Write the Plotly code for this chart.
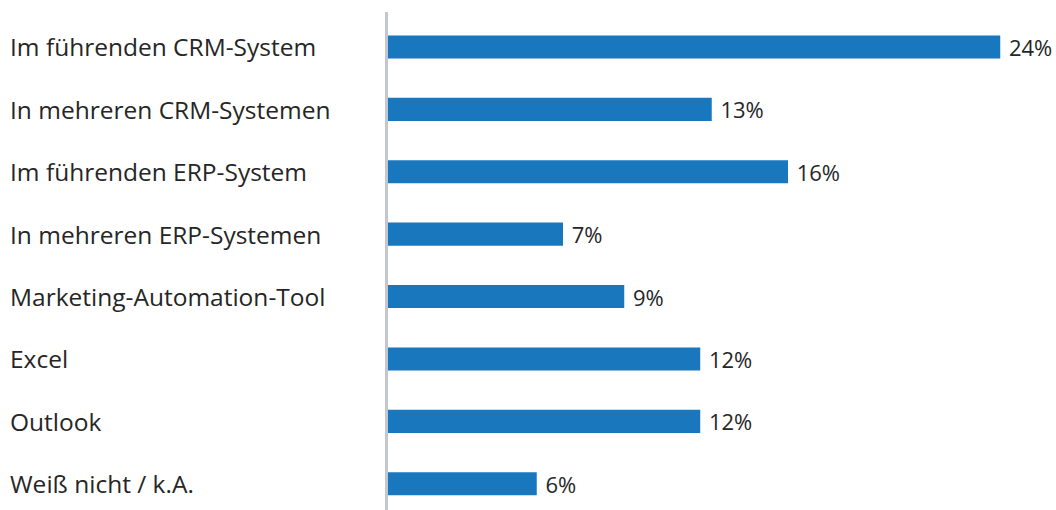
import plotly.graph_objects as go

categories = [
    "Im führenden CRM-System",
    "In mehreren CRM-Systemen",
    "Im führenden ERP-System",
    "In mehreren ERP-Systemen",
    "Marketing-Automation-Tool",
    "Excel",
    "Outlook",
    "Weiß nicht / k.A.",
]
values = [24.49, 12.95, 16.0, 7.0, 9.45, 12.49, 12.49, 5.95]

W, H = 1056, 510
L = 388
T, B = 12, 0
plot_w = W - L

FONT = "Open Sans"
TXT = "#262626"

fig = go.Figure()
fig.add_trace(go.Bar(
    x=values, y=categories, orientation="h",
    marker=dict(color="#1877bd", line=dict(width=0)),
    width=0.37,
    text=values, texttemplate=" %{x:.0f}%", textposition="outside",
    textfont=dict(family=FONT, size=22, color=TXT),
    constraintext="none",
    cliponaxis=False, hoverinfo="skip",
))

for c in categories:
    fig.add_annotation(
        x=(8 - L) / plot_w, xref="paper", y=c, yref="y",
        text=c, showarrow=False, xanchor="left", yanchor="middle",
        font=dict(family=FONT, size=24.5, color=TXT),
    )

fig.update_layout(
    width=W, height=H,
    margin=dict(l=L, r=0, t=T, b=B, pad=0),
    paper_bgcolor="white", plot_bgcolor="white",
    showlegend=False,
    xaxis=dict(range=[0, plot_w / 25.0], showgrid=False, zeroline=False,
               showticklabels=False, showline=False, fixedrange=True),
    yaxis=dict(range=[7.42, -0.56], showgrid=False, zeroline=False,
               showticklabels=False, showline=True, linecolor="#c3c6d1",
               linewidth=3, ticks="", fixedrange=True),
)

fig.write_html("out.html")
